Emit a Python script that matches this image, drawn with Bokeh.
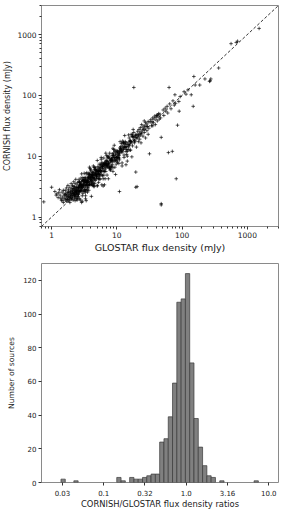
from bokeh.plotting import figure
from bokeh.layouts import column
from bokeh.models import Range1d, FixedTicker, CustomJSTickFormatter
from bokeh.embed import file_html
from bokeh.resources import INLINE

FONT = "DejaVu Sans"

# ---------------- scatter data: log10 flux densities (mJy) ----------------
glo_a = [-0.12,0.00,0.05,0.08,0.10,0.12,0.13,0.15,0.16,0.17,0.18,0.19,0.11,0.14,0.18,0.07,0.16,0.19]
cor_a = [0.25,0.49,0.42,0.38,0.32,0.45,0.36,0.28,0.41,0.33,0.24,0.38,0.40,0.31,0.44,0.36,0.27,0.30]

glo_b = [0.20,0.21,0.21,0.22,0.22,0.23,0.23,0.24,0.24,0.25,0.25,0.25,0.26,0.26,0.27,0.27,0.27,0.28,0.28,0.28,
         0.29,0.29,0.29,0.30,0.30,0.21,0.24,0.26,0.28,0.23]
cor_b = [0.35,0.28,0.44,0.31,0.39,0.26,0.48,0.33,0.41,0.29,0.37,0.52,0.34,0.45,0.27,0.40,0.31,0.36,0.49,0.24,
         0.33,0.43,0.38,0.30,0.55,0.37,0.29,0.41,0.32,0.35]

glo_c = [0.30,0.31,0.31,0.31,0.32,0.32,0.32,0.33,0.33,0.33,0.34,0.34,0.34,0.34,0.35,0.35,0.35,0.35,0.36,0.36,
         0.36,0.36,0.37,0.37,0.37,0.37,0.38,0.38,0.38,0.38,0.39,0.39,0.39,0.39,0.40,0.40,0.40,0.40,0.31,0.33,
         0.35,0.37,0.39,0.32,0.36,0.38,0.34,0.36,0.30,0.39]
cor_c = [0.42,0.36,0.29,0.47,0.40,0.33,0.52,0.38,0.45,0.28,0.41,0.35,0.58,0.47,0.39,0.31,0.44,0.50,0.37,0.42,
         0.27,0.55,0.40,0.46,0.34,0.62,0.43,0.38,0.49,0.30,0.41,0.36,0.53,0.45,0.44,0.39,0.33,0.57,0.39,0.50,
         0.36,0.43,0.48,0.44,0.48,0.41,0.38,0.33,0.35,0.28]

glo_d = [0.41,0.46,0.43,0.49,0.40,0.44,0.47,0.42,0.45,0.48,0.41,0.50,0.43,0.46,0.44,0.49,0.42,0.47,0.45,0.41,
         0.48,0.43,0.46,0.50,0.44,0.42,0.47,0.49,0.45,0.41,0.43,0.48,0.46,0.44,0.50,0.42,0.47,0.45,0.49,0.43,
         0.41,0.46,0.48,0.44,0.42,0.50,0.45,0.47,0.43,0.49,0.41,0.46,0.44,0.48,0.42,0.45,0.47,0.50,0.43,0.46]
cor_d = [0.48,0.43,0.57,0.53,0.30,0.54,0.52,0.43,0.64,0.43,0.49,0.53,0.42,0.58,0.28,0.55,0.58,0.49,0.54,0.34,
         0.59,0.41,0.51,0.72,0.44,0.49,0.35,0.62,0.49,0.37,0.51,0.65,0.47,0.54,0.42,0.48,0.26,0.54,0.52,0.58,
         0.38,0.51,0.60,0.43,0.62,0.44,0.52,0.51,0.30,0.60,0.43,0.71,0.52,0.39,0.48,0.45,0.61,0.45,0.52,0.24]

glo_e = [0.51,0.56,0.53,0.59,0.50,0.54,0.57,0.52,0.55,0.58,0.51,0.60,0.53,0.56,0.54,0.59,0.52,0.57,0.55,0.51,
         0.58,0.53,0.56,0.60,0.54,0.52,0.57,0.59,0.55,0.51,0.53,0.58,0.56,0.54,0.60,0.52,0.57,0.55,0.59,0.53,
         0.51,0.56,0.58,0.54,0.52,0.60,0.55,0.57,0.53,0.59,0.51,0.56,0.54,0.58,0.52,0.55,0.57,0.60,0.53,0.56]
cor_e = [0.61,0.53,0.57,0.80,0.49,0.60,0.44,0.64,0.58,0.53,0.58,0.76,0.53,0.65,0.45,0.64,0.30,0.65,0.57,0.65,
         0.54,0.57,0.67,0.58,0.73,0.45,0.63,0.62,0.41,0.61,0.54,0.82,0.63,0.44,0.65,0.51,0.70,0.49,0.67,0.27,
         0.57,0.52,0.71,0.57,0.41,0.69,0.59,0.57,0.71,0.53,0.58,0.58,0.52,0.69,0.35,0.60,0.72,0.61,0.61,0.48]

glo_f = [0.61,0.66,0.63,0.69,0.60,0.64,0.67,0.62,0.65,0.68,0.61,0.70,0.63,0.66,0.64,0.69,0.62,0.67,0.65,0.61,
         0.68,0.63,0.66,0.70,0.64,0.62,0.67,0.69,0.65,0.61,0.63,0.68,0.66,0.64,0.70,0.62,0.67,0.65,0.69,0.63,
         0.61,0.66,0.68,0.64,0.62,0.70,0.65,0.67,0.63,0.69,0.61,0.66,0.64,0.68,0.62]
cor_f = [0.56,0.69,0.73,0.66,0.78,0.56,0.72,0.64,0.50,0.77,0.61,0.93,0.69,0.55,0.68,0.67,0.74,0.60,0.72,0.34,
         0.73,0.58,0.78,0.72,0.52,0.70,0.70,0.68,0.82,0.54,0.69,0.69,0.63,0.74,0.52,0.66,0.81,0.65,0.76,0.54,
         0.70,0.62,0.71,0.84,0.60,0.75,0.51,0.78,0.65,0.63,0.67,0.81,0.63,0.76,0.52]

glo_g = [0.71,0.76,0.73,0.79,0.70,0.74,0.77,0.72,0.75,0.78,0.71,0.80,0.73,0.76,0.74,0.79,0.72,0.77,0.75,0.71,
         0.78,0.73,0.76,0.80,0.74,0.72,0.77,0.79,0.75,0.71,0.73,0.78,0.76,0.74,0.80,0.72,0.77,0.75,0.79,0.73,
         0.71,0.76,0.78,0.74,0.72,0.80,0.75,0.77,0.73,0.79]
cor_g = [0.76,0.76,0.69,0.88,0.51,0.77,0.90,0.71,0.81,0.68,0.79,0.75,0.75,0.95,0.71,0.83,0.57,0.87,0.76,0.64,
         0.83,0.87,0.74,0.87,0.63,0.75,0.53,0.85,0.75,0.83,0.67,0.80,0.85,0.70,0.97,0.63,0.81,0.76,0.63,0.81,
         0.70,0.98,0.83,0.62,0.75,0.77,0.86,0.69,0.79,0.51]

glo_h = [0.81,0.86,0.83,0.89,0.80,0.84,0.87,0.82,0.85,0.88,0.81,0.90,0.83,0.86,0.84,0.89,0.82,0.87,0.85,0.81,
         0.88,0.83,0.86,0.90,0.84,0.82,0.87,0.89,0.85,0.81,0.83,0.88,0.86,0.84,0.90,0.82,0.87,0.85,0.89,0.83,
         0.81,0.86,0.88,0.84,0.82]
cor_h = [0.86,1.00,0.81,0.96,0.69,0.87,0.63,0.88,0.85,1.00,0.75,0.92,0.92,0.82,1.01,0.80,0.86,0.88,0.69,0.89,
         0.87,1.05,0.91,0.78,0.87,0.79,0.98,0.81,0.91,0.53,0.87,0.82,0.97,0.85,0.77,0.89,0.89,0.83,1.05,0.75,
         0.86,0.86,0.84,0.93,0.63]

glo_i = [0.91,0.96,0.93,0.99,0.90,0.94,0.97,0.92,0.95,0.98,0.91,1.00,0.93,0.96,0.94,0.99,0.92,0.97,0.95,0.91,
         0.98,0.93,0.96,1.00,0.94,0.92,0.97,0.99,0.95,0.91,0.93,0.98,0.96,0.94,1.00,0.92,0.97,0.95,0.99,0.93]
cor_i = [0.90,1.18,0.98,0.87,0.93,0.91,1.08,0.84,1.01,0.70,0.95,0.94,1.04,0.97,0.81,1.06,0.94,0.95,1.11,0.83,
         1.03,0.93,0.92,1.09,0.75,0.95,1.10,0.98,1.01,0.81,1.01,0.93,0.98,1.13,0.97,0.96,0.82,1.05,1.00,0.86]

glo_j = [1.01,1.06,1.03,1.09,1.00,1.04,1.07,1.02,1.05,1.08,1.01,1.10,1.03,1.06,1.04,1.09,1.02,1.07,1.05,1.01,
         1.08,1.03,1.06,1.10,1.04,1.02,1.07,1.09,1.05,1.01,1.03,1.08,1.06,1.04,1.10,1.04]
cor_j = [1.08,1.08,1.01,1.25,0.92,1.09,1.07,0.98,1.14,0.89,1.04,1.23,1.02,1.12,0.94,1.17,0.97,1.09,1.24,0.98,
         1.12,0.88,1.16,1.11,0.97,1.07,1.21,1.07,1.12,0.90,1.06,0.84,1.12,1.04,1.22,0.42]

glo_k = [1.11,1.16,1.13,1.19,1.10,1.14,1.17,1.12,1.15,1.18,1.11,1.20,1.13,1.16,1.14,1.19,1.12,1.17,1.15,1.11,
         1.18,1.13,1.16,1.20,1.14,1.12,1.17,1.19,1.15,1.11]
cor_k = [1.14,0.92,1.19,1.19,1.22,1.08,1.19,1.21,1.11,1.35,1.02,1.24,1.14,1.00,1.22,1.18,1.34,1.22,1.03,1.14,
         1.15,1.24,1.08,1.26,0.86,1.16,1.11,1.30,1.16,0.98]

glo_l = [1.21,1.26,1.23,1.29,1.20,1.24,1.27,1.22,1.25,1.28,1.21,1.30,1.23,1.26,1.24,1.29,1.22,1.27,1.25,1.21,
         1.28,1.23,1.26,1.30,1.24,1.26,1.29,1.31,1.29]
cor_l = [1.24,1.39,1.22,1.35,1.10,1.32,1.22,1.24,1.44,1.25,1.25,1.15,1.33,1.27,1.17,1.34,1.36,1.25,1.32,1.10,
         1.31,0.99,1.32,1.30,1.36,2.13,0.74,0.50,0.49]

glo_m = [1.31,1.32,1.32,1.33,1.33,1.34,1.34,1.35,1.35,1.36,1.36,1.37,1.37,1.38,1.38,1.39,1.40,1.40,1.41,1.42,
         1.42,1.43,1.44,1.44,1.45,1.46,1.46,1.47,1.48,1.49,1.50,1.48,1.42]
cor_m = [1.36,1.41,1.30,1.35,1.24,1.44,1.33,1.38,1.28,1.47,1.35,1.40,1.22,1.52,1.37,1.43,1.48,1.33,1.44,1.50,
         1.39,1.46,1.55,1.30,1.49,1.53,1.42,1.49,1.57,1.46,1.04,1.36,1.58]

glo_n = [1.51,1.52,1.53,1.54,1.55,1.56,1.57,1.58,1.59,1.60,1.61,1.62,1.63,1.64,1.65,1.66,1.67,1.68,1.68,1.68,
         1.62,1.55]
cor_n = [1.56,1.60,1.50,1.57,1.63,1.55,1.61,1.66,1.52,1.64,1.67,1.58,1.66,1.70,1.61,1.69,1.63,1.31,0.22,0.20,
         1.68,1.50]

glo_o = [1.71,1.72,1.74,1.75,1.77,1.78,1.79,1.80,1.81,1.83,1.85,1.86,1.88,1.89,1.90,1.91,1.93,1.95,1.97,1.955]
cor_o = [1.76,1.67,1.79,1.74,1.82,1.71,1.06,2.13,1.86,1.78,1.08,1.91,1.84,2.01,1.87,0.63,1.51,1.90,1.98,1.74]

glo_p = [2.03,2.06,2.09,2.14,2.17,2.18,2.20,2.27,2.35,2.42,2.43,2.44,2.56,2.75,2.83,2.85,3.18]
cor_p = [2.06,2.02,2.09,2.01,1.82,2.31,2.17,2.17,2.27,2.23,2.24,2.27,2.45,2.85,2.87,2.89,3.10]

glostar_bands = [glo_a, glo_b, glo_c, glo_d, glo_e, glo_f, glo_g, glo_h, glo_i, glo_j, glo_k, glo_l, glo_m, glo_n, glo_o, glo_p]
cornish_bands = [cor_a, cor_b, cor_c, cor_d, cor_e, cor_f, cor_g, cor_h, cor_i, cor_j, cor_k, cor_l, cor_m, cor_n, cor_o, cor_p]

glostar, cornish = [], []
for gx, cy in zip(glostar_bands, cornish_bands):
    for a, b in zip(gx, cy):
        glostar.append(10 ** a)
        cornish.append(10 ** b)

flux_lim = [0.7, 3000.0]
flux_major = [1, 10, 100, 1000]

# ---------------- histogram data: log10(CORNISH/GLOSTAR) ----------------
hist_first_edge = -1.518
hist_bin_width = 0.052
hist_counts = [2, 0, 0, 1, 0, 0, 0, 0, 0, 0, 0, 0, 0,
               3, 1, 0, 3, 2, 2, 3, 4, 5, 5,
               24, 26, 39, 59, 107, 109, 124, 71, 38, 21, 10, 4, 3,
               0, 1, 0, 0, 0, 0, 0, 0, 0, 1]
ratio_ticks = [-1.5, -1.0, -0.5, 0.0, 0.5, 1.0]
ratio_labels = ["0.03", "0.1", "0.32", "1.0", "3.16", "10.0"]
count_ticks = [0, 20, 40, 60, 80, 100, 120]
ratio_lim = [-1.754, 1.118]
count_lim = [0, 130]

TXT = "#1a1a1a"
OUT = "#8a8a8a"


def style(p, xlabel, ylabel, xlab_size, ylab_size, tick_size):
    p.grid.visible = False
    p.outline_line_color = OUT
    p.outline_line_width = 1
    p.background_fill_color = "white"
    p.border_fill_color = "white"
    for ax in (p.xaxis[0], p.yaxis[0]):
        ax.axis_line_color = None
        ax.major_tick_line_color = "#333333"
        ax.minor_tick_line_color = "#333333"
        ax.major_tick_in = 0
        ax.major_tick_out = 3
        ax.minor_tick_in = 0
        ax.minor_tick_out = 2
        ax.major_label_text_font = FONT
        ax.major_label_text_font_size = tick_size
        ax.major_label_text_color = TXT
        ax.axis_label_text_font = FONT
        ax.axis_label_text_font_style = "normal"
        ax.axis_label_text_color = TXT
        ax.major_label_standoff = 2
    p.xaxis.axis_label_text_font_size = xlab_size
    p.yaxis.axis_label_text_font_size = ylab_size
    p.xaxis.axis_label = xlabel
    p.yaxis.axis_label = ylabel


# ---------------- top: scatter ----------------
p1 = figure(width=279, height=255, x_axis_type="log", y_axis_type="log",
            x_range=Range1d(*flux_lim), y_range=Range1d(*flux_lim),
            output_backend="svg", toolbar_location=None,
            min_border_left=37, min_border_right=1, min_border_top=5, min_border_bottom=27)
style(p1, "GLOSTAR flux density (mJy)", "CORNISH flux density (mJy)", "9.5px", "8px", "7.5px")
minor = [m * 10 ** e for e in range(-1, 4) for m in range(2, 10)]
minor = [v for v in minor if flux_lim[0] <= v <= flux_lim[1]]
fmt = CustomJSTickFormatter(code="return String(Math.round(tick));")
for ax in (p1.xaxis[0], p1.yaxis[0]):
    ax.ticker = FixedTicker(ticks=flux_major, minor_ticks=minor)
    ax.formatter = fmt
p1.xaxis.axis_label_standoff = 1
p1.yaxis.axis_label_standoff = 2

p1.line(flux_lim, flux_lim, line_color="black", line_width=0.8, line_dash="3 2")
p1.scatter(glostar, cornish, marker="cross", size=3.6, line_color="black",
           line_alpha=0.72, line_width=0.9)

# ---------------- bottom: histogram ----------------
lefts, rights, tops = [], [], []
for i, c in enumerate(hist_counts):
    if c > 0:
        lo = hist_first_edge + i * hist_bin_width
        lefts.append(lo)
        rights.append(lo + hist_bin_width)
        tops.append(c)

p2 = figure(width=279, height=256, x_range=Range1d(*ratio_lim), y_range=Range1d(*count_lim),
            output_backend="svg", toolbar_location=None,
            min_border_left=37, min_border_right=1, min_border_top=8, min_border_bottom=26)
style(p2, "CORNISH/GLOSTAR flux density ratios", "Number of sources", "8.4px", "7.6px", "7px")
p2.xaxis.ticker = FixedTicker(ticks=ratio_ticks, minor_ticks=[])
p2.xaxis.formatter = CustomJSTickFormatter(
    args=dict(tvals=ratio_ticks, tlabels=ratio_labels),
    code="const i = tvals.findIndex(t => Math.abs(t - tick) < 1e-9); return i < 0 ? '' : tlabels[i];")
p2.yaxis.ticker = FixedTicker(ticks=count_ticks, minor_ticks=[])
p2.xaxis.major_label_standoff = 4
p2.xaxis.axis_label_standoff = 0
p2.yaxis.axis_label_standoff = 4

p2.quad(left=lefts, right=rights, bottom=0, top=tops,
        fill_color="#808080", line_color="#3a3a3a", line_width=0.7)

layout = column(p1, p2, spacing=0)
open("out.html", "w").write(file_html(layout, INLINE))
